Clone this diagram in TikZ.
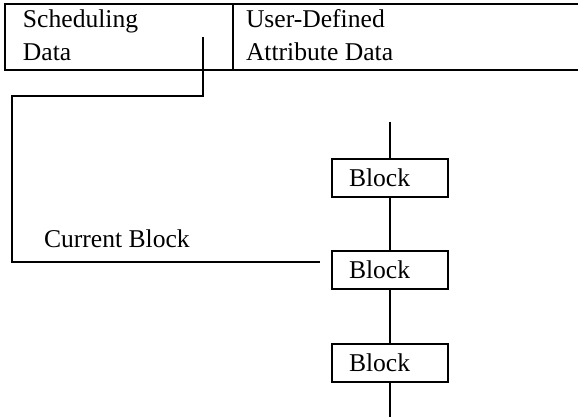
\documentclass[tikz,border=0pt]{standalone}
\usepackage{fontspec}
\setmainfont{Liberation Serif}
\usepackage{tikz}

\begin{document}
\begin{tikzpicture}[x=0.5pt,y=0.5pt,yscale=-1,xscale=1,line width=1pt,
  lbl/.style={font=\fontsize{12.8}{16.5}\selectfont, inner sep=0pt},
  blk/.style={draw, font=\fontsize{12.8}{15}\selectfont, minimum width=58pt, minimum height=19pt,
    inner xsep=8.5pt, text width=41pt, align=left}]
\useasboundingbox (0,0) rectangle (578,417);

%Shape: Table
\draw   (5,4) rectangle (590,70) ;
%Straight Lines
\draw   (233,4) -- (233,70) ;

% Text Node
\node [lbl, anchor=base west] (sched) at (22,28) {Scheduling};
% Text Node
\node [lbl, anchor=base west] (schedb) at (22,61) {Data};
% Text Node
\node [lbl, anchor=base west] (user) at (245,28) {User-Defined};
% Text Node
\node [lbl, anchor=base west] (userb) at (245,61) {Attribute Data};
% Text Node
\node [lbl, anchor=base west] (cur) at (43,247) {Current Block};

%Shape: Blocks
\node [blk] (blk1) at (390,178) {Block};
\node [blk] (blk2) at (390,270) {Block};
\node [blk] (blk3) at (390,363) {Block};

\coordinate (chtop) at (390,122);
\coordinate (chbot) at (390,417);
\coordinate (tap) at (203,37);
\coordinate (bend) at (12,96);
\coordinate (hit) at (320,262);

%Straight Lines
\draw   (chtop) -- (blk1) -- (blk2) -- (blk3) -- (chbot) ;
%Straight Lines
\draw   (tap) |- (bend) |- (hit) ;

\end{tikzpicture}
\end{document}
